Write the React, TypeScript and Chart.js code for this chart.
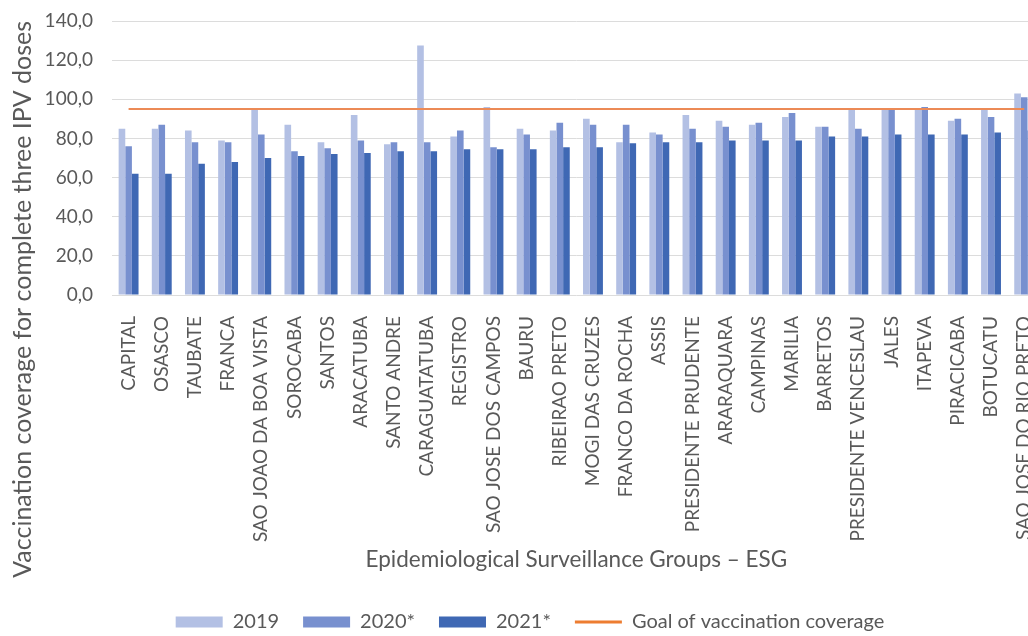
import React, { useEffect, useRef } from "react";
import { Chart, registerables } from "chart.js";

Chart.register(...registerables);

const categories = [
  "CAPITAL", "OSASCO", "TAUBATE", "FRANCA", "SAO JOAO DA BOA VISTA", "SOROCABA",
  "SANTOS", "ARACATUBA", "SANTO ANDRE", "CARAGUATATUBA", "REGISTRO",
  "SAO JOSE DOS CAMPOS", "BAURU", "RIBEIRAO PRETO", "MOGI DAS CRUZES",
  "FRANCO DA ROCHA", "ASSIS", "PRESIDENTE PRUDENTE", "ARARAQUARA", "CAMPINAS",
  "MARILIA", "BARRETOS", "PRESIDENTE VENCESLAU", "JALES", "ITAPEVA",
  "PIRACICABA", "BOTUCATU", "SAO JOSE DO RIO PRETO",
];

const values2019 = [85, 85, 84, 79, 95, 87, 78, 92, 77, 127.5, 81, 96, 85, 84, 90, 78, 83, 92, 89, 87, 91, 86, 95, 95, 95, 89, 95, 103];
const values2020 = [76, 87, 78, 78, 82, 73.5, 75, 79, 78, 78, 84, 75.5, 82, 88, 87, 87, 82, 85, 86, 88, 93, 86, 85, 95, 96, 90, 91, 101];
const values2021 = [62, 62, 67, 68, 70, 71, 72, 72.5, 73.5, 73.5, 74.5, 74.5, 74.5, 75.5, 75.5, 77.5, 78, 78, 79, 79, 79, 81, 81, 82, 82, 82, 83, 84];
const goalValues = [95, 95, 95, 95, 95, 95, 95, 95, 95, 95, 95, 95, 95, 95, 95, 95, 95, 95, 95, 95, 95, 95, 95, 95, 95, 95, 95, 95];

const seriesLabels = ["2019", "2020*", "2021*", "Goal of vaccination coverage"];
const yTitle = "Vaccination coverage for complete three IPV doses";
const xTitle = "Epidemiological Surveillance Groups – ESG";

const TEXT = "#595959";

export default function App() {
  const ref = useRef<HTMLCanvasElement | null>(null);

  useEffect(() => {
    if (!ref.current) return;
    Chart.defaults.font.family = "Lato";
    const chart = new Chart(ref.current, {
      type: "bar",
      data: {
        labels: categories,
        datasets: [
          { label: seriesLabels[0], data: values2019, backgroundColor: "#B3C0E4", borderWidth: 0, order: 1, barPercentage: 1, categoryPercentage: 0.6 },
          { label: seriesLabels[1], data: values2020, backgroundColor: "#7890CF", borderWidth: 0, order: 1, barPercentage: 1, categoryPercentage: 0.6 },
          { label: seriesLabels[2], data: values2021, backgroundColor: "#3F68B4", borderWidth: 0, order: 1, barPercentage: 1, categoryPercentage: 0.6 },
          { type: "line", label: seriesLabels[3], data: goalValues, borderColor: "#EC8A56", backgroundColor: "#EC8A56", borderWidth: 2, pointRadius: 0, order: 0 } as any,
        ],
      },
      options: {
        responsive: false,
        animation: false,
        layout: { padding: { top: 21, left: 0, right: 0, bottom: 0 } },
        plugins: {
          tooltip: { enabled: false },
          legend: {
            position: "bottom",
            labels: {
              usePointStyle: true,
              pointStyleWidth: 47,
              boxHeight: 11,
              padding: 24,
              color: TEXT,
              font: { size: 20 },
              sort: (a: any, b: any) => a.datasetIndex - b.datasetIndex,
              generateLabels: (c: any) => {
                const items = Chart.defaults.plugins.legend.labels.generateLabels(c);
                items.forEach((it: any) => {
                  if (it.datasetIndex < 3) {
                    it.pointStyle = "rect";
                    it.lineWidth = 0;
                  } else {
                    it.pointStyle = "line";
                    it.lineWidth = 3;
                    it.strokeStyle = "#ED7D31";
                  }
                });
                return items;
              },
            },
          },
        },
        scales: {
          x: {
            grid: { display: false },
            border: { display: false },
            ticks: { minRotation: 90, maxRotation: 90, autoSkip: false, padding: 13, color: TEXT, font: { size: 19 } },
            title: { display: true, text: xTitle, color: TEXT, font: { size: 22.5 }, padding: { top: 4, bottom: 15 } },
            afterFit: (s: any) => { s.height = 293; },
          },
          y: {
            min: 0,
            max: 140,
            ticks: {
              stepSize: 20,
              padding: 0,
              color: TEXT,
              font: { size: 19 },
              callback: (v: any) => Number(v).toFixed(1).replace(".", ","),
            },
            grid: { color: "#DCDCDC", drawTicks: true, tickLength: 19, tickColor: "rgba(0,0,0,0)" },
            border: { display: false },
            title: { display: true, text: yTitle, align: "end", color: TEXT, font: { size: 25 }, padding: { top: 8, bottom: 0 } },
            afterFit: (s: any) => { s.width = 112; },
          },
        },
      },
    });
    return () => chart.destroy();
  }, []);

  return (
    <div style={{ position: "fixed", left: 0, top: 0, width: 1028, height: 636, overflow: "hidden", background: "#fff" }}>
      <canvas ref={ref} width={1060} height={642} style={{ display: "block" }} />
    </div>
  );
}
